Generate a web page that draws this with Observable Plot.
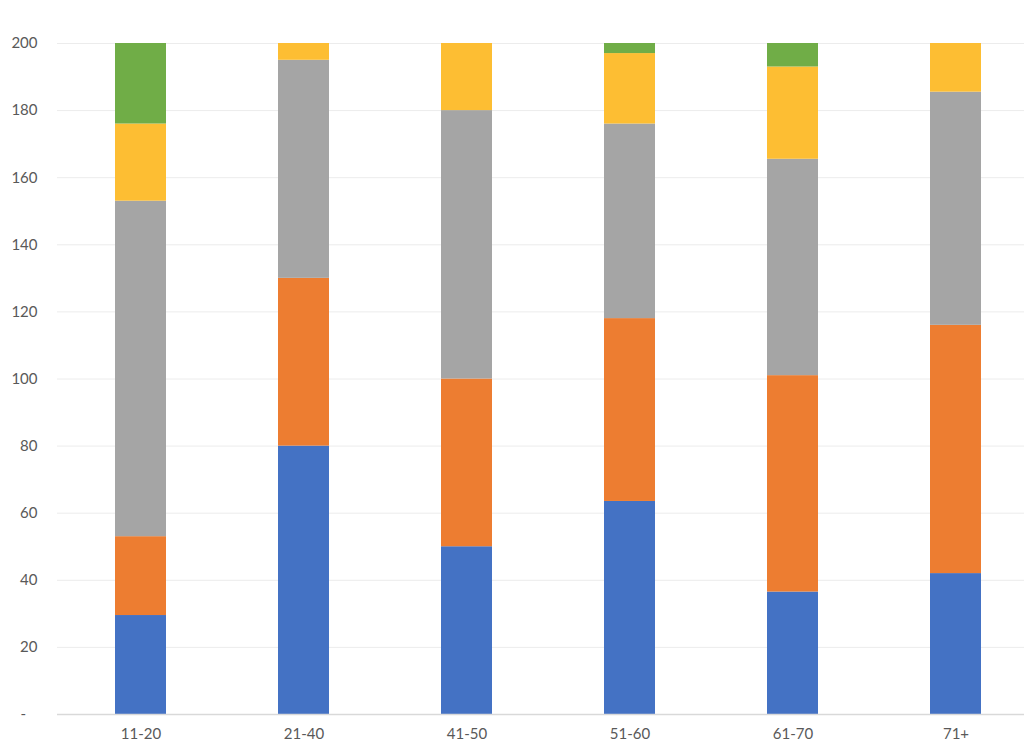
<!DOCTYPE html>
<html>
<head>
<meta charset="utf-8">
<script src="https://cdn.jsdelivr.net/npm/d3@7"></script>
<script src="https://cdn.jsdelivr.net/npm/@observablehq/plot@0.6"></script>
<style>
  html, body { margin: 0; padding: 0; background: #fff; }
  #chart { width: 1024px; height: 752px; overflow: hidden; }
</style>
</head>
<body>
<div id="chart"></div>
<script>
const categories = ["11-20", "21-40", "41-50", "51-60", "61-70", "71+"];
const seriesNames = ["Series 1", "Series 2", "Series 3", "Series 4", "Series 5"];
const series1 = [29.5, 80, 50, 63.5, 36.5, 42];
const series2 = [23.5, 50, 50, 54.5, 64.5, 74];
const series3 = [100, 65, 80, 58, 64.5, 69.5];
const series4 = [23, 5, 20, 21, 27.5, 14.5];
const series5 = [24, 0, 0, 3, 7, 0];
const seriesColors = ["#4472C4", "#ED7D31", "#A5A5A5", "#FDBE33", "#70AD47"];
const yTicks = [0, 20, 40, 60, 80, 100, 120, 140, 160, 180, 200];

const allSeries = [series1, series2, series3, series4, series5];
const rows = [];
allSeries.forEach((vals, si) => {
  vals.forEach((v, ci) => {
    rows.push({ category: categories[ci], series: seriesNames[si], value: v });
  });
});

const chart = Plot.plot({
  width: 1024,
  height: 752,
  marginTop: 43,
  marginBottom: 38,
  marginLeft: 57,
  marginRight: 0,
  style: { fontFamily: "Lato, 'Open Sans', sans-serif", fontSize: "15px", color: "#595959", background: "#fff" },
  x: { domain: categories, paddingInner: 0.688, paddingOuter: 0.2995, align: 0.577, label: null },
  y: { domain: [0, 200], label: null },
  color: { domain: seriesNames, range: seriesColors },
  marks: [
    Plot.gridY(yTicks.filter(d => d > 0), { stroke: "#ececec", strokeOpacity: 1, strokeWidth: 1 }),
    Plot.barY(rows, { x: "category", y: "value", fill: "series", order: null }),
    Plot.ruleY([0], { stroke: "#d9d9d9", strokeWidth: 1.5 }),
    Plot.axisY({ ticks: yTicks, tickSize: 0, tickPadding: 20, tickFormat: d => d === 0 ? "-\u00a0\u00a0\u00a0" : String(d), fill: "#595959", fontSize: 15 }),
    Plot.axisX({ tickSize: 0, tickPadding: 14, fill: "#595959", fontSize: 15 })
  ]
});
document.getElementById("chart").appendChild(chart);
</script>
</body>
</html>
